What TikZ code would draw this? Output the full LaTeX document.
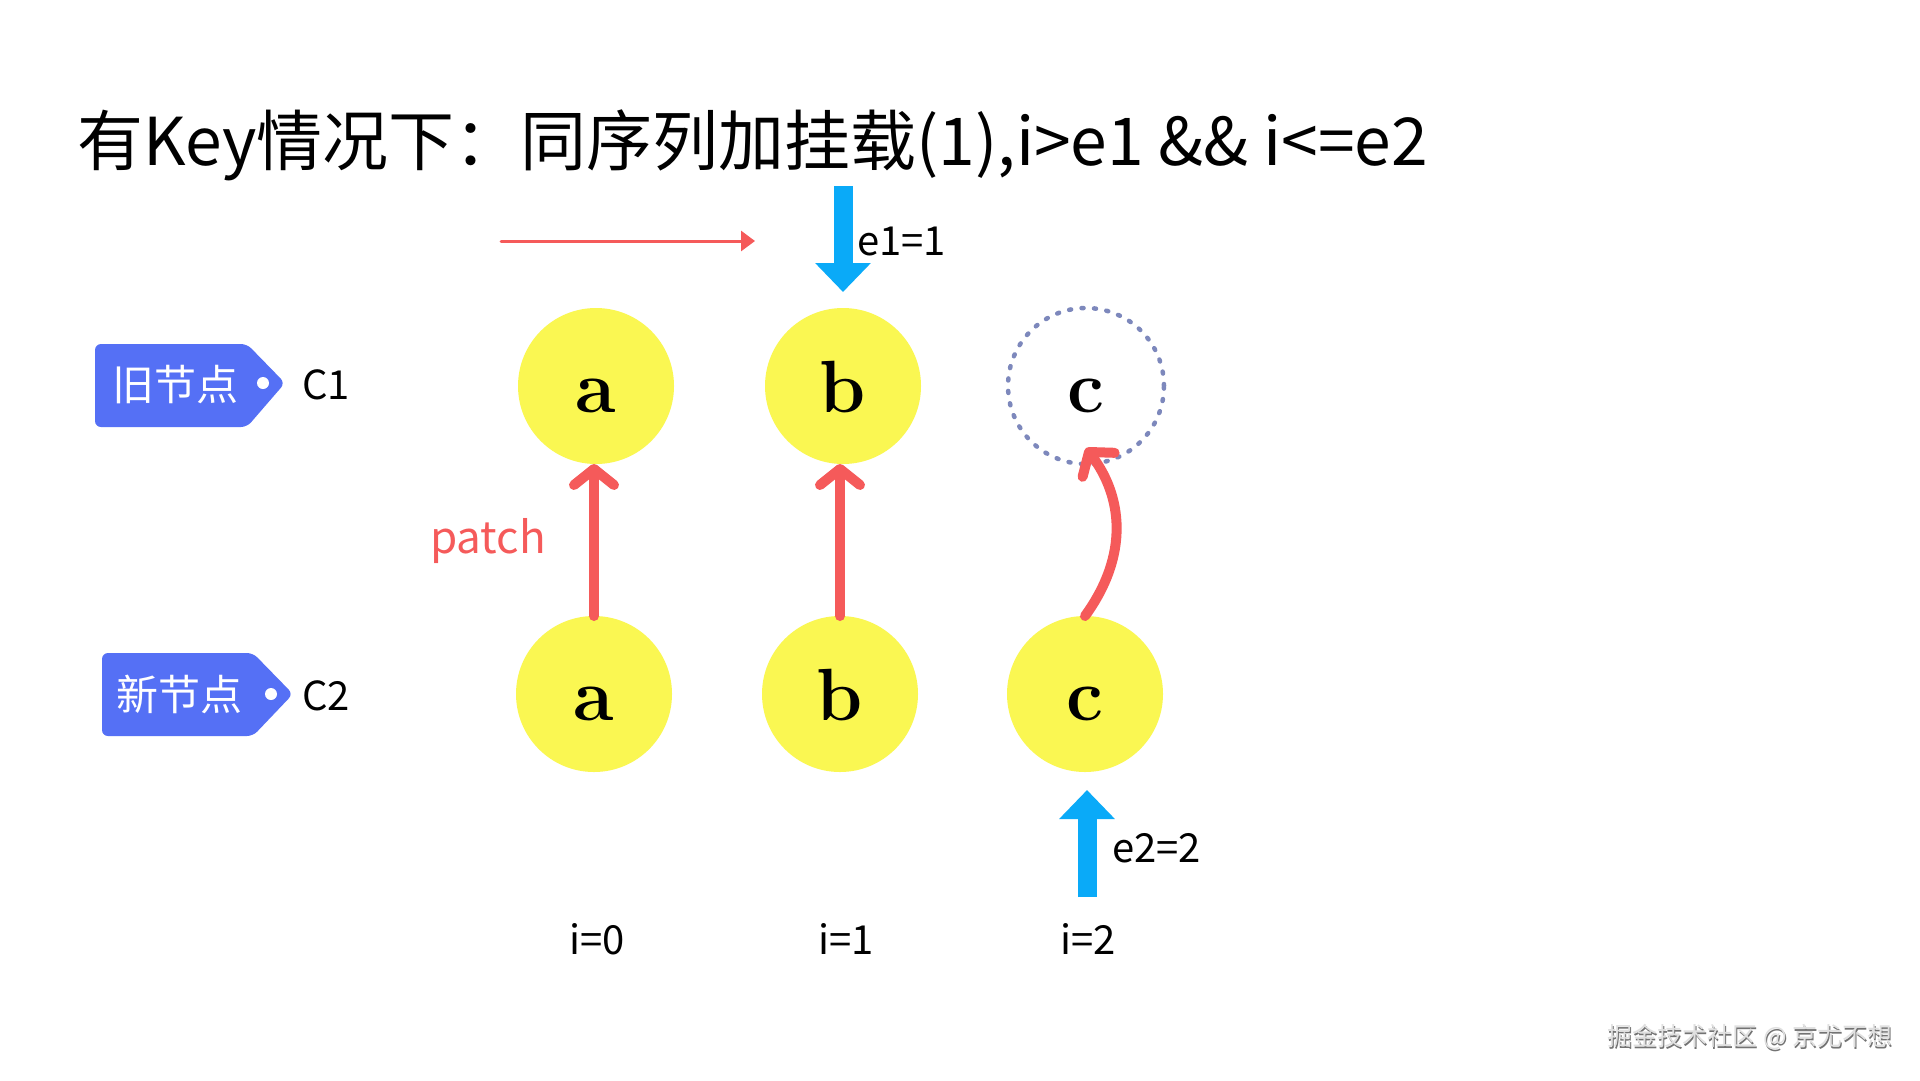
\documentclass[tikz,border=0pt]{standalone}
\usepackage{fontspec}
\usepackage{tikz}
\usetikzlibrary{arrows.meta}
\newfontfamily\cjk{Noto Sans CJK SC}
\definecolor{tagblue}{RGB}{85,112,245}
\definecolor{nodeyellow}{RGB}{250,247,82}
\definecolor{patchred}{RGB}{245,90,90}
\definecolor{pointblue}{RGB}{10,170,248}
\definecolor{ghostgray}{RGB}{125,136,188}

\begin{document}
\begin{tikzpicture}[x=1pt, y=-1pt, line cap=round, line join=round,
  vnode/.style={circle, fill=nodeyellow, minimum size=156pt, inner sep=0pt, outer sep=0pt,
    font=\fontsize{74}{74}\selectfont\bfseries, text height=52pt, text depth=0pt},
  ghostnode/.style={vnode, fill=none, draw=ghostgray, line width=4.5pt, dash pattern=on 2pt off 10.5pt},
  patcharrow/.style={draw=patchred, line width=10pt, -{Straight Barb[length=16pt, width=40pt, round]}},
  pointer/.style={draw=pointblue, line width=19pt, line cap=butt, -{Triangle[width=54pt, length=29pt]}},
  lbl/.style={font=\cjk\fontsize{40}{40}\selectfont, inner sep=0pt},
  tagtext/.style={font=\cjk\fontsize{42}{42}\selectfont, text=white, inner sep=0pt}]
\useasboundingbox (0,0) rectangle (1920,1080);
\fill[white] (0,0) rectangle (1920,1080);

% title
\node[anchor=base west, inner sep=0pt, font=\cjk\fontsize{66}{66}\selectfont] (title) at (77,165)
  {有Key情况下：同序列加挂载(1),i>e1 \&\& i<=e2};

% tags
\fill[tagblue, rounded corners=6pt] (95,344) -- (247,344) -- (285,383) -- (247,427) -- (95,427) -- cycle;
\fill[white] (263,383) circle (6);
\node[tagtext] (oldtag) at (175,385) {旧节点};
\node[lbl] (c1) at (326,385) {C1};
\fill[tagblue, rounded corners=6pt] (102,653) -- (253,653) -- (293,694) -- (253,736) -- (102,736) -- cycle;
\fill[white] (271,694) circle (6);
\node[tagtext] (newtag) at (179,694) {新节点};
\node[lbl] (c2) at (326,696) {C2};

% old children
\node[vnode] (oa) at (596,386) {a};
\node[vnode] (ob) at (843,386) {b};
\node[ghostnode] (oc) at (1086,386) {c};

% new children
\node[vnode] (na) at (594,694) {a};
\node[vnode] (nb) at (840,694) {b};
\node[vnode] (nc) at (1085,694) {c};

% patch
\draw[patcharrow] (na.north) -- (na.north |- oa.south);
\draw[patcharrow] (nb.north) -- (nb.north |- ob.south);
\draw[patcharrow] (nc.north) .. controls +(45,-62) and +(36,48) .. ([yshift=16pt]oc.south);
\node[lbl, text=patchred, font=\cjk\fontsize{44}{44}\selectfont] (patch) at (488,541) {patch};

% sweep direction
\coordinate (sweepstart) at (501,241);
\coordinate (sweepend) at (755,241);
\draw[patchred, line width=3pt, -{Triangle[width=20pt, length=14pt]}] (sweepstart) -- (sweepend);

% e1 / e2 pointers
\coordinate (e1top) at (843,186);
\coordinate (e1tip) at (843,292);
\draw[pointer] (e1top) -- (e1tip);
\node[lbl, anchor=west] (e1) at (857,241) {e1=1};
\coordinate (e2bottom) at (1087,897);
\coordinate (e2tip) at (1087,790);
\draw[pointer] (e2bottom) -- (e2tip);
\node[lbl, anchor=west] (e2) at (1112,848) {e2=2};

% indices
\node[lbl] (i0) at (597,939) {i=0};
\node[lbl] (i1) at (846,939) {i=1};
\node[lbl] (i2) at (1088,939) {i=2};

% watermark
\node[anchor=east, inner sep=0pt, font=\cjk\fontsize{25}{25}\selectfont, text=black!55] (markshadow) at (1894,1039) {掘金技术社区 @ 京尤不想};
\node[anchor=east, inner sep=0pt, font=\cjk\fontsize{25}{25}\selectfont, text=black!12] (mark) at (1892.5,1037.5) {掘金技术社区 @ 京尤不想};
\end{tikzpicture}
\end{document}
